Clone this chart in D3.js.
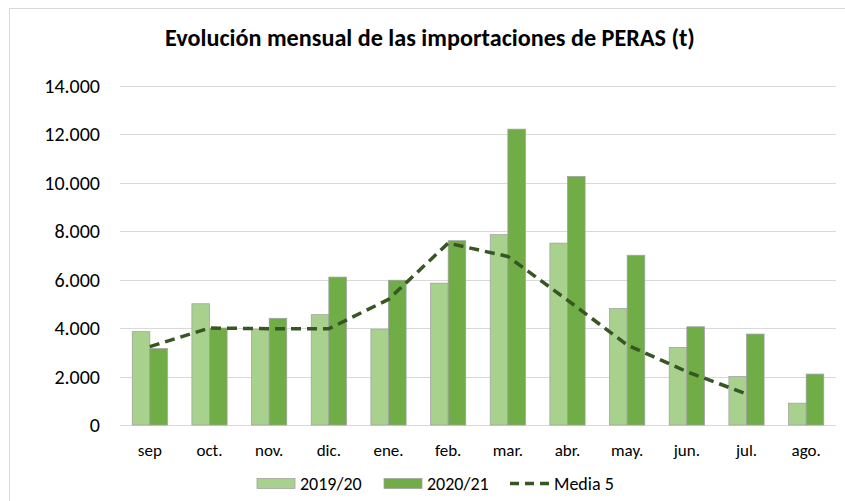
<!DOCTYPE html>
<html>
<head>
<meta charset="utf-8">
<script src="https://cdn.jsdelivr.net/npm/d3@7"></script>
<style>
  html, body { margin: 0; padding: 0; background: #fff; }
  svg { display: block; font-family: Carlito, Calibri, Lato, "Open Sans", sans-serif; }
</style>
</head>
<body>
<div id="chart"></div>
<script>
// Data (toneladas)
const months = ['sep', 'oct.', 'nov.', 'dic.', 'ene.', 'feb.', 'mar.', 'abr.', 'may.', 'jun.', 'jul.', 'ago.'];
const season1920 = [3850, 5000, 3950, 4550, 3950, 5850, 7850, 7500, 4800, 3200, 2000, 900];
const season2021 = [3150, 4000, 4400, 6100, 5970, 7600, 12200, 10250, 7000, 4050, 3750, 2100];
const media5 = [3230, 4000, 3970, 3970, 5180, 7500, 6950, 5150, 3300, 2200, 1280, null];
const yTicks = [0, 2000, 4000, 6000, 8000, 10000, 12000, 14000];
const seriesNames = ['2019/20', '2020/21'];
const lineName = 'Media 5';

const width = 845, height = 501;
const plot = { left: 120, right: 836, top: 85.5, bottom: 425 };

const lightGreen = '#a9d18e';
const darkGreen = '#70ad47';
const lineGreen = '#375623';

const svg = d3.select('#chart').append('svg')
    .attr('width', width)
    .attr('height', height);

// Chart border
svg.append('rect')
    .attr('x', 9.5).attr('y', 8.5)
    .attr('width', 860).attr('height', 520)
    .attr('fill', '#fff')
    .attr('stroke', '#d9d9d9');

// Title
svg.append('text')
    .attr('x', 430).attr('y', 46)
    .attr('text-anchor', 'middle')
    .attr('font-size', 24.2)
    .attr('font-weight', 'bold')
    .attr('fill', '#000')
    .text('Evolución mensual de las importaciones de PERAS (t)');

// Scales
const x = d3.scaleBand()
    .domain(months)
    .range([plot.left, plot.right])
    .paddingInner(0.41)
    .paddingOuter(0.205);

const xInner = d3.scaleBand()
    .domain(seriesNames)
    .range([0, x.bandwidth()]);

const y = d3.scaleLinear()
    .domain([0, 14000])
    .range([plot.bottom, plot.top]);

// Gridlines
svg.append('g')
    .selectAll('line')
    .data(yTicks)
    .join('line')
    .attr('x1', plot.left).attr('x2', plot.right)
    .attr('y1', d => Math.round(y(d)) + 0.5)
    .attr('y2', d => Math.round(y(d)) + 0.5)
    .attr('stroke', '#d9d9d9')
    .attr('stroke-width', 1);

// Y axis labels
const fmt = d3.formatLocale({ decimal: ',', thousands: '.', grouping: [3], currency: ['', '€'] }).format(',d');
svg.append('g')
    .selectAll('text')
    .data(yTicks)
    .join('text')
    .attr('x', 100)
    .attr('y', d => y(d))
    .attr('dy', '0.35em')
    .attr('text-anchor', 'end')
    .attr('font-size', 20)
    .attr('fill', '#000')
    .text(d => fmt(d));

// Bars
const rows = months.map((m, i) => ({ month: m, values: [season1920[i], season2021[i]] }));
const colors = [lightGreen, darkGreen];

const groups = svg.append('g')
    .selectAll('g')
    .data(rows)
    .join('g')
    .attr('transform', d => `translate(${x(d.month)},0)`);

groups.selectAll('rect')
    .data(d => d.values.map((v, j) => ({ key: seriesNames[j], value: v, j })))
    .join('rect')
    .attr('x', d => xInner(d.key))
    .attr('y', d => y(d.value))
    .attr('width', xInner.bandwidth())
    .attr('height', d => y(0) - y(d.value))
    .attr('fill', d => colors[d.j])
    .attr('stroke', '#a0a0a0')
    .attr('stroke-width', 0.75);

// Media 5 line
const lineData = months.map((m, i) => ({ month: m, value: media5[i] })).filter(d => d.value != null);
const line = d3.line()
    .x(d => x(d.month) + x.bandwidth() / 2)
    .y(d => y(d.value))
    .curve(d3.curveLinear);

svg.append('path')
    .datum(lineData)
    .attr('d', line)
    .attr('fill', 'none')
    .attr('stroke', lineGreen)
    .attr('stroke-width', 3.5)
    .attr('stroke-linejoin', 'round')
    .attr('stroke-dasharray', '10,6');

// X axis labels
svg.append('g')
    .selectAll('text')
    .data(months)
    .join('text')
    .attr('x', d => x(d) + x.bandwidth() / 2)
    .attr('y', 456)
    .attr('text-anchor', 'middle')
    .attr('font-size', 17)
    .attr('fill', '#000')
    .text(d => d);

// Legend
const legend = svg.append('g');
const legendItems = [
    { label: seriesNames[0], type: 'rect', color: lightGreen, x: 257 },
    { label: seriesNames[1], type: 'rect', color: darkGreen, x: 384 },
    { label: lineName, type: 'line', color: lineGreen, x: 510 }
];
legendItems.forEach(it => {
    if (it.type === 'rect') {
        legend.append('rect')
            .attr('x', it.x).attr('y', 478.5)
            .attr('width', 38).attr('height', 10)
            .attr('fill', it.color)
            .attr('stroke', '#a0a0a0')
            .attr('stroke-width', 0.75);
    } else {
        legend.append('line')
            .attr('x1', it.x).attr('x2', it.x + 39)
            .attr('y1', 483.5).attr('y2', 483.5)
            .attr('stroke', it.color)
            .attr('stroke-width', 3.5)
            .attr('stroke-dasharray', '9,6');
    }
    legend.append('text')
        .attr('x', it.x + (it.type === 'rect' ? 43 : 44))
        .attr('y', 490)
        .attr('font-size', 18)
        .attr('fill', '#000')
        .text(it.label);
});
</script>
</body>
</html>
